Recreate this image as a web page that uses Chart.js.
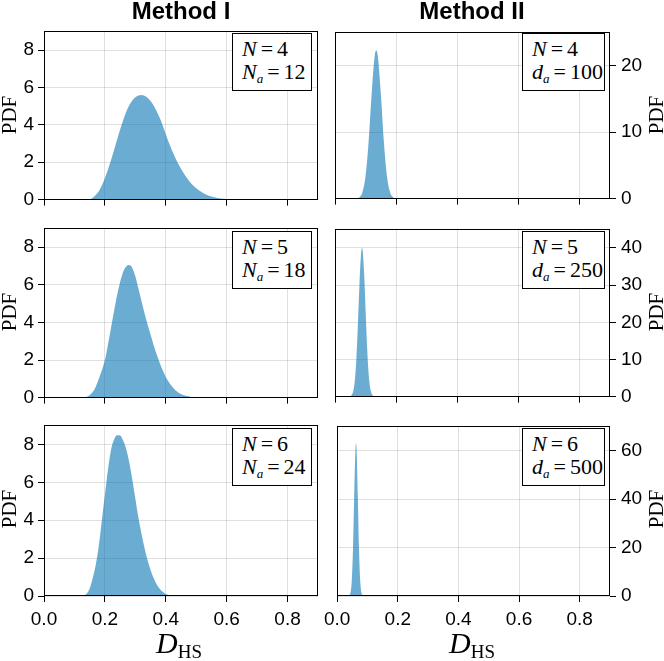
<!DOCTYPE html>
<html>
<head>
<meta charset="utf-8">
<script src="https://cdn.jsdelivr.net/npm/chart.js@4/dist/chart.umd.min.js"></script>
<style>
  body { margin: 0; background: #fff; }
  #wrap { position: relative; width: 664px; height: 661px; overflow: hidden; }
  canvas { position: absolute; }
  .title { position: absolute; top: -1px; font: bold 24px "Liberation Sans", Arial, sans-serif; line-height: 24px; transform: translateX(-50%); white-space: nowrap; color: #000; }
  .ylab { position: absolute; font: 21px "Liberation Serif", serif; line-height: 21px; transform: translate(-50%, -50%) rotate(-90deg); white-space: nowrap; color: #000; }
  .box { position: absolute; box-sizing: border-box; height: 58px; background: #fff; border: 1px solid #000; padding: 3px 0 0 9px; font: 22px "Liberation Serif", serif; line-height: 23.4px; white-space: nowrap; color: #000; }
  .box .eq { margin: 0 4px; }
  .box sub { font-size: 13px; font-style: italic; vertical-align: -4px; line-height: 0; }
  .xlab { position: absolute; top: 628px; font: italic 30px "Liberation Serif", serif; line-height: 30px; transform: translateX(-50%); white-space: nowrap; color: #000; }
  .xlab sub { font-style: normal; font-size: 19px; vertical-align: -5px; line-height: 0; }
</style>
</head>
<body>
<div id="wrap">
  <canvas id="c1" width="330" height="199" style="left:0;top:16px"></canvas>
  <canvas id="c2" width="346" height="199" style="left:318px;top:16px"></canvas>
  <canvas id="c3" width="330" height="200" style="left:0;top:213px"></canvas>
  <canvas id="c4" width="346" height="200" style="left:318px;top:213px"></canvas>
  <canvas id="c5" width="330" height="251" style="left:0;top:410px"></canvas>
  <canvas id="c6" width="346" height="251" style="left:318px;top:410px"></canvas>

  <div class="title" style="left:181px">Method I</div>
  <div class="title" style="left:472px">Method II</div>

  <div class="ylab" style="left:9px;top:115px">PDF</div>
  <div class="ylab" style="left:9px;top:312px">PDF</div>
  <div class="ylab" style="left:9px;top:509px">PDF</div>
  <div class="ylab" style="left:656px;top:115px">PDF</div>
  <div class="ylab" style="left:656px;top:312px">PDF</div>
  <div class="ylab" style="left:656px;top:509px">PDF</div>

  <div class="box" style="left:232px;top:33px;width:80px"><i>N</i><span class="eq">=</span>4<br><i>N</i><sub>a</sub><span class="eq">=</span>12</div>
  <div class="box" style="left:522px;top:33px;width:83px"><i>N</i><span class="eq">=</span>4<br><i>d</i><sub>a</sub><span class="eq">=</span>100</div>
  <div class="box" style="left:232px;top:231px;width:80px"><i>N</i><span class="eq">=</span>5<br><i>N</i><sub>a</sub><span class="eq">=</span>18</div>
  <div class="box" style="left:522px;top:231px;width:83px"><i>N</i><span class="eq">=</span>5<br><i>d</i><sub>a</sub><span class="eq">=</span>250</div>
  <div class="box" style="left:232px;top:428px;width:80px"><i>N</i><span class="eq">=</span>6<br><i>N</i><sub>a</sub><span class="eq">=</span>24</div>
  <div class="box" style="left:522px;top:428px;width:83px"><i>N</i><span class="eq">=</span>6<br><i>d</i><sub>a</sub><span class="eq">=</span>500</div>

  <div class="xlab" style="left:179px">D<sub>HS</sub></div>
  <div class="xlab" style="left:472px">D<sub>HS</sub></div>
</div>

<script>
// tick positions
const xTicks = [0, 0.2, 0.4, 0.6, 0.8];
const pdfTicksI = [0, 2, 4, 6, 8];
const pdfTicksII4 = [0, 10, 20];
const pdfTicksII5 = [0, 10, 20, 30, 40];
const pdfTicksII6 = [0, 20, 40, 60];

// Method I, N = 4, Na = 12
const m1n4x = [0.10, 0.14, 0.15, 0.16, 0.17, 0.18, 0.19, 0.20, 0.21, 0.22, 0.23, 0.24, 0.25, 0.26, 0.27, 0.28, 0.29, 0.30, 0.31, 0.32, 0.33, 0.34, 0.35, 0.36, 0.37, 0.38, 0.39, 0.40, 0.41, 0.42, 0.43, 0.44, 0.45, 0.46, 0.47, 0.48, 0.49, 0.50, 0.52, 0.54, 0.56, 0.58, 0.60, 0.62, 0.64, 0.70];
const m1n4y = [0, 0, 0.02, 0.1, 0.25, 0.45, 0.75, 1.15, 1.6, 2.1, 2.65, 3.2, 3.75, 4.25, 4.7, 5.05, 5.3, 5.48, 5.57, 5.6, 5.56, 5.45, 5.27, 5.03, 4.73, 4.38, 3.97, 3.5, 3.05, 2.65, 2.28, 1.95, 1.65, 1.38, 1.14, 0.93, 0.76, 0.61, 0.38, 0.22, 0.12, 0.06, 0.03, 0.01, 0, 0];
// Method I, N = 5, Na = 18
const m1n5x = [0.10, 0.13, 0.14, 0.15, 0.16, 0.17, 0.18, 0.19, 0.20, 0.21, 0.22, 0.23, 0.24, 0.25, 0.26, 0.27, 0.28, 0.29, 0.30, 0.31, 0.32, 0.33, 0.34, 0.35, 0.36, 0.37, 0.38, 0.39, 0.40, 0.41, 0.42, 0.43, 0.44, 0.45, 0.46, 0.48, 0.50, 0.52, 0.60];
const m1n5y = [0, 0, 0.04, 0.13, 0.3, 0.58, 1.0, 1.45, 2.0, 2.8, 3.7, 4.6, 5.45, 6.15, 6.7, 6.98, 7.05, 6.9, 6.45, 5.8, 5.15, 4.5, 3.9, 3.35, 2.8, 2.3, 1.85, 1.45, 1.1, 0.83, 0.6, 0.42, 0.29, 0.19, 0.12, 0.05, 0.01, 0, 0];
// Method I, N = 6, Na = 24
const m1n6x = [0.10, 0.12, 0.13, 0.14, 0.15, 0.16, 0.17, 0.18, 0.19, 0.20, 0.21, 0.22, 0.23, 0.24, 0.25, 0.26, 0.27, 0.28, 0.29, 0.30, 0.31, 0.32, 0.33, 0.34, 0.35, 0.36, 0.37, 0.38, 0.39, 0.40, 0.42, 0.44, 0.50];
const m1n6y = [0, 0, 0.02, 0.12, 0.4, 0.95, 1.65, 2.65, 4.0, 5.35, 6.65, 7.7, 8.25, 8.48, 8.47, 8.2, 7.75, 7.05, 6.15, 5.15, 4.15, 3.3, 2.55, 1.9, 1.37, 0.95, 0.62, 0.38, 0.22, 0.11, 0.03, 0, 0];

// Method II, N = 4, da = 100
const m2n4x = [0.07, 0.08, 0.09, 0.10, 0.11, 0.12, 0.13, 0.135, 0.14, 0.15, 0.16, 0.17, 0.18, 0.19, 0.20, 0.21];
const m2n4y = [0, 0.2, 1.0, 3.4, 8.5, 15.8, 21.5, 22.3, 21.5, 15.8, 8.5, 3.4, 1.0, 0.2, 0.03, 0];
// Method II, N = 5, da = 250
const m2n5x = [0.05, 0.055, 0.06, 0.065, 0.07, 0.075, 0.08, 0.085, 0.0885, 0.09, 0.095, 0.10, 0.105, 0.11, 0.115, 0.12, 0.125, 0.13];
const m2n5y = [0, 0.5, 1.6, 4.4, 10.2, 19.4, 30.0, 38.1, 40.0, 39.6, 33.8, 23.6, 13.5, 6.3, 2.4, 0.8, 0.2, 0];
// Method II, N = 6, da = 500
const m2n6x = [0.036, 0.04, 0.044, 0.048, 0.052, 0.056, 0.06, 0.062, 0.064, 0.068, 0.072, 0.076, 0.08, 0.084, 0.088];
const m2n6y = [0, 0.2, 1.4, 6.2, 19.3, 41.1, 60.1, 63.0, 60.1, 41.1, 19.3, 6.2, 1.4, 0.2, 0];

const FILL = 'rgba(0, 114, 178, 0.58)';
const GRID = 'rgba(0, 0, 0, 0.12)';
const TICKFONT = { family: '"Liberation Sans", Arial, sans-serif', size: 19 };

const framePlugin = {
  id: 'frame',
  afterDatasetsDraw(chart) {
    const a = chart.chartArea;
    const ctx = chart.ctx;
    ctx.save();
    ctx.strokeStyle = '#000';
    ctx.lineWidth = 1;
    const l = Math.round(a.left) + 0.5, t = Math.round(a.top) + 0.5;
    const r = Math.round(a.right) - 0.5, b = Math.round(a.bottom) - 0.5;
    ctx.strokeRect(l, t, r - l, b - t);
    ctx.restore();
  }
};

function makePanel(id, xs, ys, yMax, yTicks, side, showX) {
  const pad = side === 'left'
    ? { top: 12, right: 12, bottom: 0, left: 0 }
    : { top: 12, right: 0, bottom: 0, left: 17 };
  new Chart(document.getElementById(id), {
    type: 'line',
    data: {
      datasets: [{
        data: xs.map((x, i) => ({ x: x, y: ys[i] })),
        fill: 'origin',
        backgroundColor: FILL,
        borderColor: 'rgba(0,0,0,0)',
        borderWidth: 0,
        pointRadius: 0,
        cubicInterpolationMode: 'monotone'
      }]
    },
    options: {
      responsive: false,
      animation: false,
      devicePixelRatio: 1,
      layout: { padding: pad },
      plugins: { legend: { display: false }, tooltip: { enabled: false } },
      scales: {
        x: {
          type: 'linear', min: 0, max: 0.9,
          afterBuildTicks: s => { s.ticks = xTicks.map(v => ({ value: v })); },
          afterFit: s => { s.height = showX ? 65 : 14; },
          grid: { color: GRID, tickColor: '#000', tickLength: 6 },
          border: { display: false },
          ticks: {
            display: showX, color: '#000', font: TICKFONT, padding: 6,
            maxRotation: 0, autoSkip: false,
            callback: v => v.toFixed(1)
          }
        },
        y: {
          position: side, min: 0, max: yMax,
          afterBuildTicks: s => { s.ticks = yTicks.map(v => ({ value: v })); },
          afterFit: s => { s.width = side === 'left' ? 44 : 54; },
          grid: { color: GRID, tickColor: '#000', tickLength: 6 },
          border: { display: false },
          ticks: { color: '#000', font: TICKFONT, padding: side === 'left' ? 4 : 5 }
        }
      }
    },
    plugins: [framePlugin]
  });
}

makePanel('c1', m1n4x, m1n4y, 9, pdfTicksI, 'left', false);
makePanel('c2', m2n4x, m2n4y, 25, pdfTicksII4, 'right', false);
makePanel('c3', m1n5x, m1n5y, 9, pdfTicksI, 'left', false);
makePanel('c4', m2n5x, m2n5y, 45, pdfTicksII5, 'right', false);
makePanel('c5', m1n6x, m1n6y, 9, pdfTicksI, 'left', true);
makePanel('c6', m2n6x, m2n6y, 70, pdfTicksII6, 'right', true);
</script>
</body>
</html>
